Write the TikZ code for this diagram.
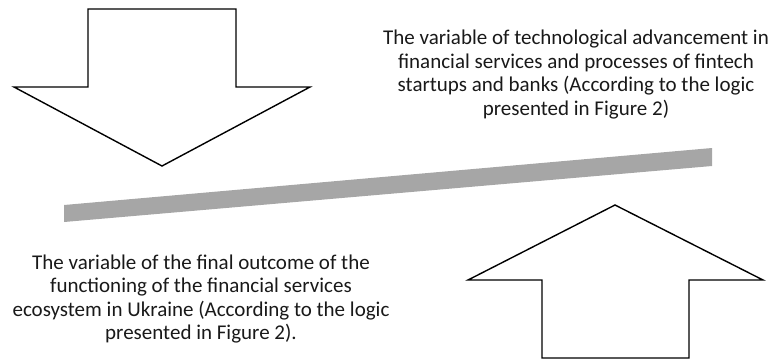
\documentclass[tikz,border=0pt]{standalone}
\usepackage{fontspec}
\setmainfont{Carlito}
\begin{document}
\begin{tikzpicture}[x=1pt,y=-1pt,
  arrowshape/.style={draw=black,line width=1.4pt,fill=white,line join=miter},
  barshape/.style={fill=black!35,draw=none},
  label/.style={align=center,font=\fontsize{21}{23.5}\selectfont,text=black!90,inner sep=0pt}]
\useasboundingbox (0,0) rectangle (783,360);
% down arrow
\draw[arrowshape] (88,9) -- (236,9) -- (236,87) -- (310,87) -- (162,166) -- (14,87) -- (88,87) -- cycle;
% up arrow
\draw[arrowshape] (542,358) -- (689,358) -- (689,280) -- (763,280) -- (615,205) -- (468,280) -- (542,280) -- cycle;
% gray bar
\fill[barshape] (64,205) -- (712,148) -- (712,166) -- (64,222) -- cycle;
\node[label] (top) at (576,74.5) {The variable of technological advancement in\\financial services and processes of fintech\\startups and banks (According to the logic\\presented in Figure 2)};
\node[label] (bottom) at (201,299) {The variable of the final outcome of the\\functioning of the financial services\\ecosystem in Ukraine (According to the logic\\presented in Figure 2).};
\end{tikzpicture}
\end{document}
